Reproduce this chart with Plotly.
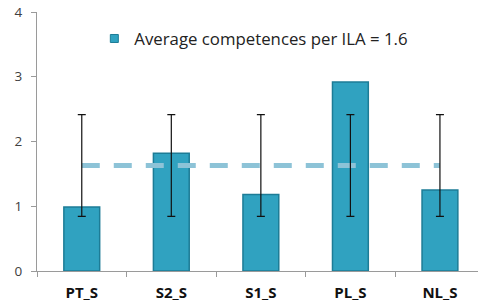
import plotly.graph_objects as go

categories = ["PT_S", "S2_S", "S1_S", "PL_S", "NL_S"]
values = [0.99, 1.82, 1.18, 2.92, 1.25]
average = 1.63
avg_err = 0.785
legend_label = "Average competences per ILA = 1.6"

fig = go.Figure()
fig.add_trace(go.Bar(
    x=categories, y=values, width=0.4, name=legend_label,
    marker=dict(color="#30A2C0", line=dict(color="#1D7C96", width=1.5)),
    showlegend=False,
))
fig.add_trace(go.Scatter(
    x=[None], y=[None], mode="markers", name=legend_label,
    marker=dict(symbol="square", size=8, color="#30A2C0",
                line=dict(color="#1D7C96", width=1)),
    showlegend=True,
))
fig.add_trace(go.Scatter(
    x=categories, y=[average] * len(categories), mode="lines",
    line=dict(color="#8DC3D7", width=5, dash="18px,14px"),
    showlegend=False, hoverinfo="skip",
))
fig.add_trace(go.Scatter(
    x=categories, y=[average] * len(categories), mode="markers",
    marker=dict(size=1, color="rgba(0,0,0,0)"),
    error_y=dict(type="constant", value=avg_err, color="#111111", thickness=1.2, width=4),
    showlegend=False, hoverinfo="skip",
))

fig.update_layout(
    width=478, height=304,
    margin=dict(l=37, r=0, t=12, b=33),
    paper_bgcolor="white", plot_bgcolor="white",
    font=dict(family="Open Sans", color="#333333"),
    legend=dict(x=0.13, y=0.965, xanchor="left", yanchor="top",
                font=dict(size=16.8, color="#222222"), bgcolor="rgba(0,0,0,0)"),
    bargap=0.6,
)
fig.update_xaxes(
    range=[-0.5, 4.425], showline=True, linecolor="#9A9A9A", linewidth=1,
    ticks="outside", tickson="boundaries", ticklen=5, tickcolor="#9A9A9A",
    tickfont=dict(size=15, color="#111111", family="Open Sans"),
    ticklabelstandoff=8, showgrid=False,
    tickprefix="<b>", ticksuffix="</b>",
)
fig.update_yaxes(
    range=[0, 4], tickvals=[0, 1, 2, 3, 4], showline=True, linecolor="#9A9A9A",
    linewidth=1, ticks="outside", ticklen=5, tickcolor="#9A9A9A",
    tickfont=dict(size=13.5, color="#404040"), ticklabelstandoff=6,
    showgrid=False, zeroline=False,
)

fig.write_html("out.html", config={"displayModeBar": False},
               post_script="document.body.style.margin='0px';")
